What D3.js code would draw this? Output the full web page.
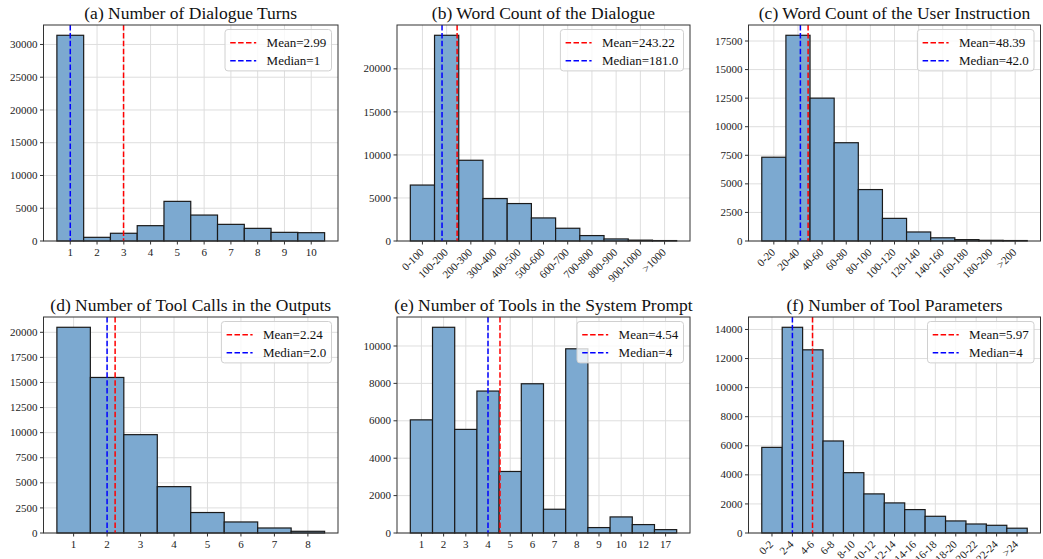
<!DOCTYPE html>
<html>
<head>
<meta charset="utf-8">
<script src="https://cdn.jsdelivr.net/npm/d3@7"></script>
<style>
body{margin:0;background:#fff;}
svg text{font-family:"Liberation Serif","Tinos","Times New Roman",Times,serif;}
</style>
</head>
<body>
<svg id="chart" width="1043" height="559"></svg>
<script>
// (a) number of dialogue turns
var turnLabels = ["1","2","3","4","5","6","7","8","9","10"];
var turnCounts = [31400, 560, 1180, 2340, 6050, 3960, 2540, 1930, 1320, 1270];
var turnStats = ["2.99", "1"];
var turnTicks = [0, 5000, 10000, 15000, 20000, 25000, 30000];

// (b) word count of the dialogue
var dialogLabels = ["0-100","100-200","200-300","300-400","400-500","500-600","600-700","700-800","800-900","900-1000",">1000"];
var dialogCounts = [6500, 23900, 9380, 4930, 4350, 2680, 1480, 630, 240, 100, 50];
var dialogStats = ["243.22", "181.0"];
var dialogTicks = [0, 5000, 10000, 15000, 20000];

// (c) word count of the user instruction
var instrLabels = ["0-20","20-40","40-60","60-80","80-100","100-120","120-140","140-160","160-180","180-200",">200"];
var instrCounts = [7330, 18000, 12500, 8600, 4500, 1980, 790, 280, 120, 60, 40];
var instrStats = ["48.39", "42.0"];
var instrTicks = [0, 2500, 5000, 7500, 10000, 12500, 15000, 17500];

// (d) number of tool calls in the outputs
var callLabels = ["1","2","3","4","5","6","7","8"];
var callCounts = [20500, 15500, 9800, 4620, 2040, 1100, 500, 170];
var callStats = ["2.24", "2.0"];
var callTicks = [0, 2500, 5000, 7500, 10000, 12500, 15000, 17500, 20000];

// (e) number of tools in the system prompt
var toolLabels = ["1","2","3","4","5","6","7","8","9","10","12","17"];
var toolCounts = [6050, 11000, 5540, 7590, 3290, 7980, 1270, 9850, 290, 860, 450, 180];
var toolStats = ["4.54", "4"];
var toolTicks = [0, 2000, 4000, 6000, 8000, 10000];

// (f) number of tool parameters
var paramLabels = ["0-2","2-4","4-6","6-8","8-10","10-12","12-14","14-16","16-18","18-20","20-22","22-24",">24"];
var paramCounts = [5890, 14150, 12600, 6330, 4150, 2690, 2070, 1610, 1150, 830, 620, 530, 330];
var paramStats = ["5.97", "4"];
var paramTicks = [0, 2000, 4000, 6000, 8000, 10000, 12000, 14000];

var panels = [
	{title:"(a) Number of Dialogue Turns", labels:turnLabels, counts:turnCounts, stats:turnStats, ticks:turnTicks, bin:1, rot:false, col:0, row:0},
	{title:"(b) Word Count of the Dialogue", labels:dialogLabels, counts:dialogCounts, stats:dialogStats, ticks:dialogTicks, bin:100, rot:true, col:1, row:0},
	{title:"(c) Word Count of the User Instruction", labels:instrLabels, counts:instrCounts, stats:instrStats, ticks:instrTicks, bin:20, rot:true, col:2, row:0},
	{title:"(d) Number of Tool Calls in the Outputs", labels:callLabels, counts:callCounts, stats:callStats, ticks:callTicks, bin:1, rot:false, col:0, row:1},
	{title:"(e) Number of Tools in the System Prompt", labels:toolLabels, counts:toolCounts, stats:toolStats, ticks:toolTicks, bin:1, rot:false, col:1, row:1},
	{title:"(f) Number of Tool Parameters", labels:paramLabels, counts:paramCounts, stats:paramStats, ticks:paramTicks, bin:2, rot:true, col:2, row:1}
];

var colL = [43.5, 397, 748.5], colR = [338, 690, 1040.5];
var rowT = [25, 317], rowB = [241, 533];
var barFill = "#7ca9d0", gridCol = "#dedede", spineCol = "#333";

var svg = d3.select("#chart");

panels.forEach(function(p){ drawPanel(p); });

function drawPanel(p){
	var L = colL[p.col], R = colR[p.col], T = rowT[p.row], B = rowB[p.row];
	var n = p.labels.length;
	var x = d3.scaleLinear().domain([-0.5 - 0.05*n, n - 0.5 + 0.05*n]).range([L, R]);
	var y = d3.scaleLinear().domain([0, d3.max(p.counts)*1.05]).range([B, T]);
	var g = svg.append("g");

	// grid
	g.selectAll(".gx").data(p.labels).enter().append("line")
		.attr("x1", function(d,i){ return x(i); }).attr("x2", function(d,i){ return x(i); })
		.attr("y1", T).attr("y2", B).attr("stroke", gridCol).attr("stroke-width", 1);
	g.selectAll(".gy").data(p.ticks).enter().append("line")
		.attr("x1", L).attr("x2", R)
		.attr("y1", function(d){ return y(d); }).attr("y2", function(d){ return y(d); })
		.attr("stroke", gridCol).attr("stroke-width", 1);

	// bars
	g.selectAll(".bar").data(p.counts).enter().append("rect")
		.attr("x", function(d,i){ return x(i - 0.5); })
		.attr("width", function(d,i){ return x(i + 0.5) - x(i - 0.5); })
		.attr("y", function(d){ return y(d); })
		.attr("height", function(d){ return B - y(d); })
		.attr("fill", barFill).attr("stroke", "#1a1a1a").attr("stroke-width", 1.2);

	// mean / median lines
	var lineCols = ["#ff0000", "#0000ff"];
	p.stats.forEach(function(s, k){
		var xv = x(parseFloat(s)/p.bin - 1);
		g.append("line").attr("x1", xv).attr("x2", xv).attr("y1", T).attr("y2", B)
			.attr("stroke", lineCols[k]).attr("stroke-width", 1.5).attr("stroke-dasharray", "5.5,2.4");
	});

	// spines
	g.append("rect").attr("x", L).attr("y", T).attr("width", R - L).attr("height", B - T)
		.attr("fill", "none").attr("stroke", spineCol).attr("stroke-width", 1);

	// y axis
	p.ticks.forEach(function(t){
		g.append("line").attr("x1", L - 3.5).attr("x2", L).attr("y1", y(t)).attr("y2", y(t))
			.attr("stroke", spineCol).attr("stroke-width", 1);
		g.append("text").attr("x", L - 6).attr("y", y(t)).attr("dy", "0.33em")
			.attr("text-anchor", "end").attr("font-size", 11).attr("fill", "#222").text(t);
	});

	// x axis
	p.labels.forEach(function(lb, i){
		var xv = x(i);
		g.append("line").attr("x1", xv).attr("x2", xv).attr("y1", B).attr("y2", B + 3.5)
			.attr("stroke", spineCol).attr("stroke-width", 1);
		if(p.rot){
			g.append("text").attr("transform", "translate(" + (xv + 2) + "," + (B + 12) + ") rotate(-45)")
				.attr("text-anchor", "end").attr("font-size", 11).attr("fill", "#222").text(lb);
		}else{
			g.append("text").attr("x", xv).attr("y", B + 15)
				.attr("text-anchor", "middle").attr("font-size", 11).attr("fill", "#222").text(lb);
		}
	});

	// title
	g.append("text").attr("x", (L + R)/2).attr("y", T - 6).attr("text-anchor", "middle")
		.attr("font-size", 17.5).attr("fill", "#111").text(p.title);

	// legend
	var fs = 13;
	var leg = g.append("g");
	var box = leg.append("rect").attr("rx", 3).attr("ry", 3)
		.attr("fill", "#fff").attr("fill-opacity", 0.8).attr("stroke", "#d0d0d0").attr("stroke-width", 1);
	var names = ["Mean=" + p.stats[0], "Median=" + p.stats[1]];
	var texts = [], maxW = 0;
	names.forEach(function(nm, k){
		var t = leg.append("text").attr("font-size", fs).attr("fill", "#111").attr("dy", "0.33em").text(nm);
		texts.push(t);
		maxW = Math.max(maxW, t.node().getComputedTextLength());
	});
	var pad = 0.4*fs, hl = 2*fs, htp = 0.8*fs, rowH = 18;
	var w = pad*2 + hl + htp + maxW, h = pad*2 + rowH + fs;
	var bx = R - 0.5*fs - w, by = T + 4.5;
	box.attr("x", bx).attr("y", by).attr("width", w).attr("height", h);
	texts.forEach(function(t, k){
		var cy = by + pad + fs/2 + 1.5 + k*rowH;
		t.attr("x", bx + pad + hl + htp).attr("y", cy);
		leg.append("line").attr("x1", bx + pad).attr("x2", bx + pad + hl).attr("y1", cy).attr("y2", cy)
			.attr("stroke", lineCols[k]).attr("stroke-width", 1.5).attr("stroke-dasharray", "5.5,2.4");
	});
}
</script>
</body>
</html>
